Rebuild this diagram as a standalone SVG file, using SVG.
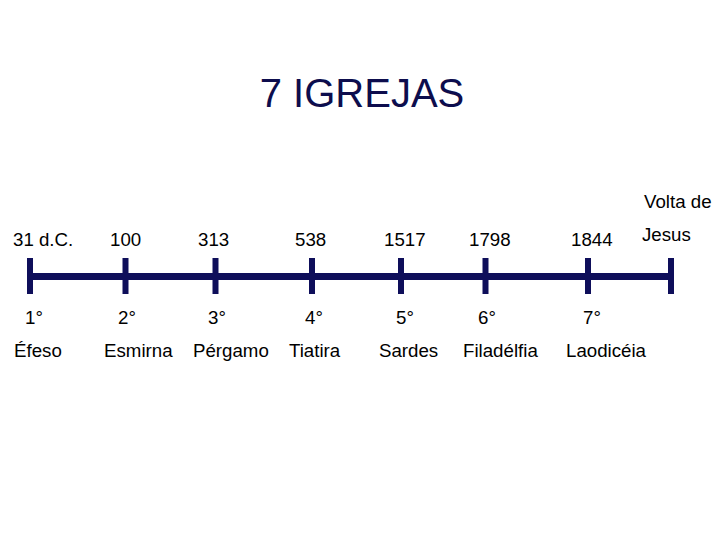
<svg xmlns="http://www.w3.org/2000/svg" width="720" height="540" viewBox="0 0 720 540">
<style>
text{font-family:"Liberation Sans",Arial,sans-serif;fill:#000}
.t{font-size:40px;fill:#0d0d4d}
.l{font-size:18.7px}
.ln{stroke:#0e0e5a;fill:none}
.h{stroke-width:7}
.v{stroke-width:6}
</style>
<rect width="720" height="540" fill="#fff"/>
<text class="t" x="362" y="107" text-anchor="middle">7 IGREJAS</text>
<g id="connectors">
<path class="ln h" d="M30 276.5H671"/>
<path class="ln v" d="M30 258V294M125.5 258V294M215.5 258V294M312 258V294M401 258V294M485.5 258V294M588 258V294M671 258V294"/>
</g>
<g id="n1"><text class="l" x="13" y="246">31 d.C.</text><text class="l" x="25" y="324">1°</text><text class="l" x="14" y="357">Éfeso</text></g>
<g id="n2"><text class="l" x="110" y="246">100</text><text class="l" x="118" y="324">2°</text><text class="l" x="104" y="357">Esmirna</text></g>
<g id="n3"><text class="l" x="198" y="246">313</text><text class="l" x="208" y="324">3°</text><text class="l" x="193" y="357">Pérgamo</text></g>
<g id="n4"><text class="l" x="295" y="246">538</text><text class="l" x="305" y="324">4°</text><text class="l" x="289" y="357">Tiatira</text></g>
<g id="n5"><text class="l" x="384" y="246">1517</text><text class="l" x="396" y="324">5°</text><text class="l" x="379" y="357">Sardes</text></g>
<g id="n6"><text class="l" x="469" y="246">1798</text><text class="l" x="478" y="324">6°</text><text class="l" x="463" y="357">Filadélfia</text></g>
<g id="n7"><text class="l" x="571" y="246">1844</text><text class="l" x="583" y="324">7°</text><text class="l" x="566" y="357">Laodicéia</text></g>
<g id="n8"><text class="l" x="644" y="208">Volta de</text><text class="l" x="642" y="241">Jesus</text></g>
</svg>
